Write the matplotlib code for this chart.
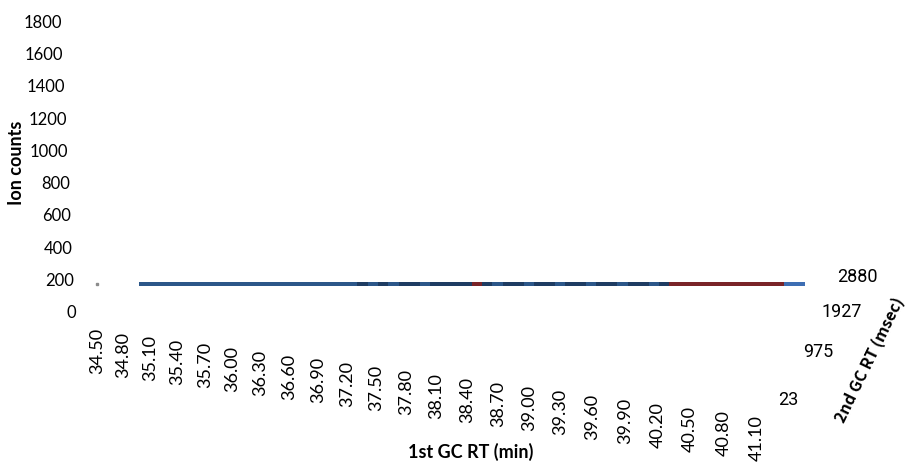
import matplotlib.pyplot as plt
import numpy as np
from matplotlib.colors import ListedColormap

# 1st GC RT tick labels (min)
rt1_labels = ["34.50", "34.80", "35.10", "35.40", "35.70", "36.00", "36.30", "36.60",
              "36.90", "37.20", "37.50", "37.80", "38.10", "38.40", "38.70", "39.00",
              "39.30", "39.60", "39.90", "40.20", "40.50", "40.80", "41.10"]
# Ion counts axis
ion_ticks = [0, 200, 400, 600, 800, 1000, 1200, 1400, 1600, 1800]
# 2nd GC RT tick labels (msec)
rt2_ticks = [23, 975, 1927, 2880]

# surface band seen edge-on: colour level per 0.1 min cell, 34.9 - 41.4 min
# 0 = blue, 1 = navy, 2 = red, 3 = light blue
band_start = 34.9
band_step = 0.1
band_level = [0] * 21 + [1, 0, 1, 0, 1, 1, 0, 1, 1, 1, 1, 2,
              1, 0, 1, 1, 0, 1, 1, 0, 1, 1, 0, 1, 1, 0, 1, 1, 0, 1,
              2, 2, 2, 2, 2, 2, 2, 2, 2, 2, 2, 3, 3]
band_colors = ["#2c5789", "#1e3c62", "#7a2428", "#3d6eb3"]

W, H = 909, 463
fig = plt.figure(figsize=(W / 100, H / 100), dpi=100)


def fx(px):
    return px / W


def fy(py):
    return 1 - py / H


# band axes (pixel 97 -> 34.5 min, pixel 815 -> 41.4 min)
ax = fig.add_axes([fx(97), fy(286), fx(815 - 97), 4.5 / H])
edges = band_start + band_step * np.arange(len(band_level) + 1)
ax.pcolormesh(edges, [0, 1], np.array([band_level]), cmap=ListedColormap(band_colors),
              vmin=-0.5, vmax=3.5)
ax.plot([34.5], [0.5], marker="s", ms=2, color="#8c8c8c", clip_on=False)
ax.set_xlim(34.5, 41.4)
ax.set_ylim(0, 1)
ax.axis("off")

# ion count labels
for v in ion_ticks:
    fig.text(fx(76 - v * 14 / 1800), fy(313 - v * 290 / 1800), str(v),
             ha="right", va="center", fontsize=12, family="Lato")
fig.text(fx(17), fy(163), "Ion counts", rotation=90, ha="center", va="center",
         fontsize=13, fontweight="bold", family="Lato")

# 1st GC RT labels
for i, lab in enumerate(rt1_labels):
    x = 97 + 26.24 * i + 0.171 * i ** 2
    y = 328 + 3.5 * i + 0.0206 * i ** 2
    fig.text(fx(x), fy(y), lab, rotation=90, ha="center", va="top",
             fontsize=13, family="Lato")
fig.text(fx(471), fy(452), "1st GC RT (min)", ha="center", va="center",
         fontsize=13, fontweight="bold", family="Lato")

# 2nd GC RT labels
rt2_right = [878, 862, 833, 798][::-1]
rt2_y = [400, 352, 312, 277]
for v, xr, yc in zip(rt2_ticks, rt2_right, rt2_y):
    fig.text(fx(xr), fy(yc), str(v), ha="right", va="center", fontsize=13,
             family="Roboto")
fig.text(fx(870), fy(360), "2nd GC RT (msec)", rotation=64, ha="center", va="center",
         fontsize=11.5, fontweight="bold", family=["Noto Sans CJK JP", "DejaVu Sans"])

fig.savefig("out.png", dpi=100)
